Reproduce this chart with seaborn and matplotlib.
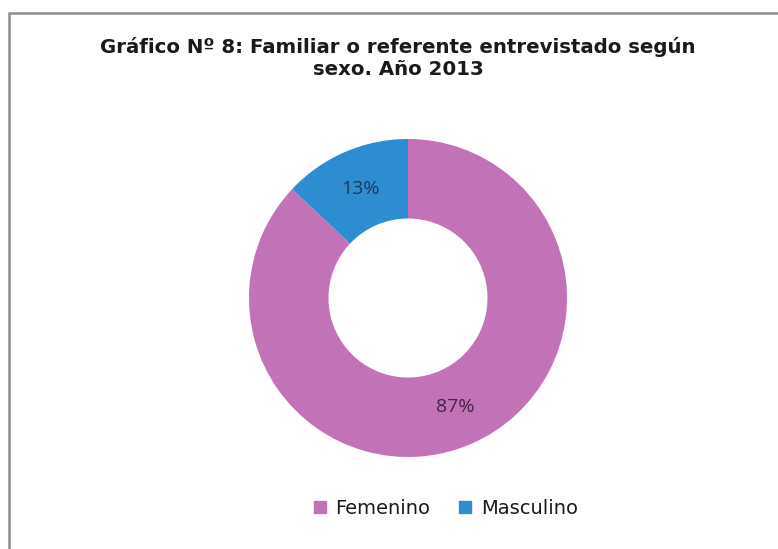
import matplotlib
matplotlib.use("Agg")
import matplotlib.pyplot as plt
from matplotlib.patches import Rectangle
from matplotlib.lines import Line2D
import seaborn as sns

categories = ["Femenino", "Masculino"]
shares = [87, 13]
colors = ["#C273B7", "#2E8CD0"]
label_colors = ["#4B2047", "#1B3A5C"]
title = "Gráfico Nº 8: Familiar o referente entrevistado según\nsexo. Año 2013"

sns.set_theme(style="white")
plt.rcParams["font.family"] = ["DejaVu Sans"]

W, H = 778, 549
fig = plt.figure(figsize=(W / 100, H / 100), dpi=100)
fig.patch.set_facecolor("white")

# outer frame of the chart area
fig.add_artist(Rectangle((9 / W, -0.05), 1.2, 1 - 13 / H + 0.05,
                         transform=fig.transFigure, fill=False,
                         edgecolor="#8e8e8e", linewidth=1.8))

cx, cy, r = 408, 298, 159
ax = fig.add_axes([(cx - r) / W, 1 - (cy + r) / H, 2 * r / W, 2 * r / H])
wedges, texts, autotexts = ax.pie(
    shares, colors=colors, startangle=90, counterclock=False,
    radius=1, wedgeprops=dict(width=0.5, linewidth=0),
    autopct=lambda p: f"{p:.0f}%", pctdistance=0.75,
    textprops=dict(fontsize=14, family=["Open Sans", "DejaVu Sans"]))
for t, c in zip(autotexts, label_colors):
    t.set_color(c)
ax.set_xlim(-1, 1)
ax.set_ylim(-1, 1)
ax.set_aspect("equal")
ax.axis("off")

fig.text(398 / W, 1 - 58 / H, title, ha="center", va="center", fontsize=14.2,
         fontweight="bold", color="#1a1a1a", linespacing=1.2)

handles = [Line2D([], [], marker="s", linestyle="none", markersize=8.5,
                  markerfacecolor=c, markeredgecolor=c) for c in colors]
fig.legend(handles, categories, loc="center", bbox_to_anchor=(445 / W, 1 - 508 / H),
           ncol=2, frameon=False, handlelength=0.8, handletextpad=0.4,
           columnspacing=1.4, prop=dict(family="DejaVu Sans", size=14),
           labelcolor="#1a1a1a")

fig.savefig("out.png", dpi=100)
